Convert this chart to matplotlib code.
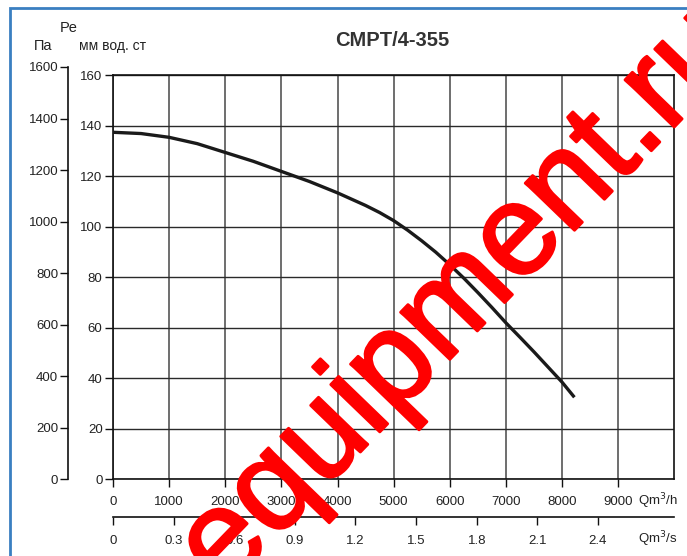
import matplotlib
matplotlib.use("Agg")
import matplotlib.pyplot as plt
import matplotlib.patheffects as pe
from matplotlib.patches import Rectangle

plt.rcParams['font.family'] = ['Liberation Sans', 'DejaVu Sans']

# ─── data ─────────────────────────────────────────────
flow_m3h = [0, 500, 1000, 1500, 2000, 2500, 3000, 3500, 4000, 4250, 4500,
            4750, 5000, 5250, 5500, 5750, 6000, 6250, 6500, 6750, 7000,
            7250, 7500, 7750, 8000, 8220]
pressure_mm = [137.5, 137, 135.5, 133, 129.5, 126, 122, 118, 113.5, 111, 108.5,
               105.7, 102.5, 98.7, 94.5, 90, 85, 79.7, 74, 68.1, 62,
               56.3, 50.5, 44.5, 38.5, 32.5]

x_ticks_h = [0, 1000, 2000, 3000, 4000, 5000, 6000, 7000, 8000, 9000]
x_ticks_s = [0, 0.3, 0.6, 0.9, 1.2, 1.5, 1.8, 2.1, 2.4]
y_ticks_mm = [0, 20, 40, 60, 80, 100, 120, 140, 160]
y_ticks_pa = [0, 200, 400, 600, 800, 1000, 1200, 1400, 1600]

W, H = 687, 556
TXT = '#222222'

def fx(px):
    return px / W

def fy(py):
    return 1 - py / H

fig = plt.figure(figsize=(W / 100, H / 100), dpi=100)
fig.patch.set_facecolor('white')

# blue frame
fig.patches.append(Rectangle((fx(10), fy(700)), 1.2, fy(8) - fy(700),
                             transform=fig.transFigure, fill=False,
                             edgecolor='#3a7fc1', linewidth=2))

# ─── main axes (мм вод. ст vs m3/h) ──────────────────
L, R, T, B = 113, 674.3, 75.5, 479.3
ax = fig.add_axes([fx(L), fy(B), (R - L) / W, (B - T) / H])
ax.plot(flow_m3h, pressure_mm, color='#1a1a1a', linewidth=2.4,
        solid_capstyle='butt', zorder=3)
ax.set_xlim(0, 10000)
ax.set_ylim(0, 160)
ax.set_xticks(x_ticks_h)
ax.set_xticklabels([str(v) for v in x_ticks_h])
ax.set_yticks(y_ticks_mm)
ax.set_yticklabels([str(v) for v in y_ticks_mm])
ax.grid(axis='y', color='#2a2a2a', linewidth=1.0)
ax.grid(axis='x', color='#555555', linewidth=1.2)
ax.set_axisbelow(True)
for s in ax.spines.values():
    s.set_color('#111111')
    s.set_linewidth(1.2)
ax.tick_params(direction='out', length=6, width=1, colors='#111111',
               labelcolor=TXT, labelsize=9.5)
ax.tick_params(axis='x', pad=6)
ax.tick_params(axis='y', pad=1.5)

# ─── Pa axis ─────────────────────────────────────────
PT = 67
ax2 = fig.add_axes([fx(68), fy(B), 0.0001, (B - PT) / H])
ax2.set_ylim(0, 1600)
ax2.set_yticks(y_ticks_pa)
ax2.set_yticklabels([str(v) for v in y_ticks_pa])
ax2.set_xticks([])
ax2.patch.set_visible(False)
for k in ['top', 'right', 'bottom']:
    ax2.spines[k].set_visible(False)
ax2.spines['left'].set_color('#111111')
ax2.spines['left'].set_linewidth(1.2)
ax2.tick_params(axis='y', direction='out', length=6, width=1,
                colors='#111111', labelcolor=TXT, labelsize=9.5, pad=1)

# ─── m3/s axis ───────────────────────────────────────
SY = 516.7
ax3 = fig.add_axes([fx(L), fy(SY), (R - L) / W, 0.0001])
ax3.set_xlim(0, 10000 / 3600)
ax3.set_xticks(x_ticks_s)
ax3.set_xticklabels(['0' if v == 0 else f'{v:.1f}' for v in x_ticks_s])
ax3.set_yticks([])
ax3.patch.set_visible(False)
for k in ['top', 'right', 'left']:
    ax3.spines[k].set_visible(False)
ax3.spines['bottom'].set_color('#111111')
ax3.spines['bottom'].set_linewidth(1.2)
ax3.tick_params(axis='x', direction='out', length=6, width=1,
                colors='#111111', labelcolor=TXT, labelsize=9.5, pad=7)

# ─── labels ──────────────────────────────────────────
fig.text(fx(638), fy(501.5), 'Qm$^3$/h', ha='left', va='center',
         fontsize=9.5, color=TXT)
fig.text(fx(638), fy(539), 'Qm$^3$/s', ha='left', va='center',
         fontsize=9.5, color=TXT)
fig.text(fx(69), fy(28), 'Pe', ha='center', va='center', fontsize=10.5, color=TXT)
fig.text(fx(43), fy(46), 'Па', ha='center', va='center', fontsize=10.5, color=TXT)
fig.text(fx(113), fy(46), 'мм вод. ст', ha='center', va='center',
         fontsize=10, color=TXT)
fig.text(fx(392), fy(40), 'CMPT/4-355', ha='center', va='center',
         fontsize=14.5, fontweight='bold', color='#333333')

# watermark
fig.text(fx(486), fy(322), 'equipment.ru', ha='center', va='baseline',
         rotation=46, rotation_mode='anchor', fontsize=93, color='#ff0000',
         zorder=10,
         path_effects=[pe.withStroke(linewidth=2, foreground='#ff0000')])

fig.savefig('out.png', dpi=100, facecolor='white')
